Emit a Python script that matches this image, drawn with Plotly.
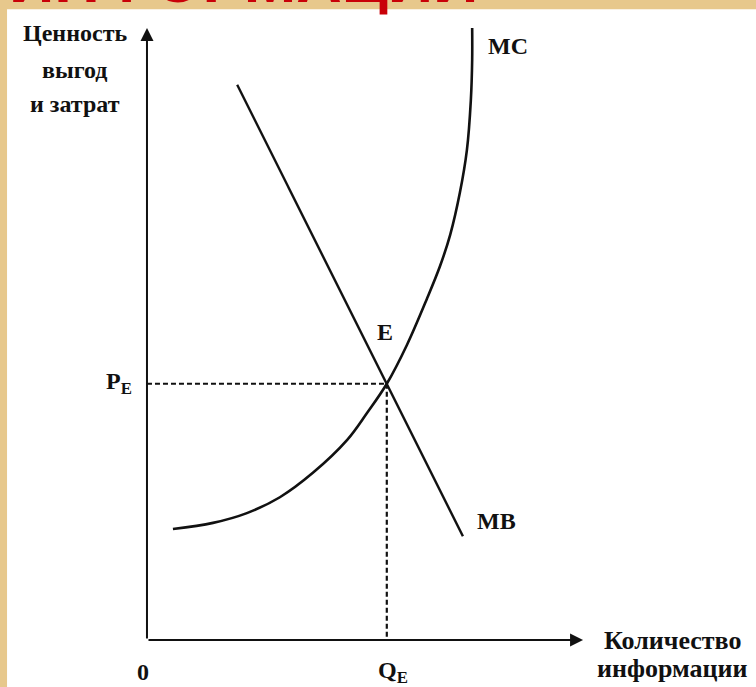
import plotly.graph_objects as go

# кривые (условные единицы: количество информации / ценность)
mc_q = [0.59, 1.50, 2.27, 3.02, 3.77, 4.55, 5.00, 5.45, 5.91, 6.36,
        6.66, 6.89, 7.11, 7.27, 7.36, 7.39, 7.39]
mc_v = [1.82, 1.92, 2.08, 2.34, 2.74, 3.28, 3.72, 4.20, 4.84, 5.59,
        6.13, 6.64, 7.33, 8.03, 8.85, 9.51, 10.03]
mb_q = [2.05, 7.18]
mb_v = [9.10, 1.70]
q_e = 5.45
p_e = 4.20
x_max = 9.91   # конец оси X
y_max = 10.03  # конец оси Y

INK = '#111111'
SERIF = 'Liberation Serif'

fig = go.Figure()

fig.add_trace(go.Scatter(x=mc_q, y=mc_v, mode='lines', line_shape='spline',
                         line=dict(color=INK, width=2.6), hoverinfo='skip'))
fig.add_trace(go.Scatter(x=mb_q, y=mb_v, mode='lines',
                         line=dict(color=INK, width=2.4), hoverinfo='skip'))
# пунктир к точке равновесия
fig.add_trace(go.Scatter(x=[0, q_e], y=[p_e, p_e], mode='lines',
                         line=dict(color=INK, width=2.2, dash='5px,3px'), hoverinfo='skip'))
fig.add_trace(go.Scatter(x=[q_e, q_e], y=[p_e, 0], mode='lines',
                         line=dict(color=INK, width=2.2, dash='5px,3px'), hoverinfo='skip'))

# белый лист поверх бежевого фона
fig.add_shape(type='rect', xref='x', yref='y', x0=-3.18, x1=13.9, y0=-0.8, y1=10.34,
              fillcolor='white', line_width=0, layer='below')

# оси со стрелками
fig.add_annotation(x=0, y=y_max, ax=0, ay=0, xref='x', yref='y', axref='x', ayref='y',
                   text='', showarrow=True, arrowhead=2, arrowsize=1.3, arrowwidth=2,
                   arrowcolor=INK)
fig.add_annotation(x=x_max, y=0, ax=0, ay=0, xref='x', yref='y', axref='x', ayref='y',
                   text='', showarrow=True, arrowhead=2, arrowsize=1.3, arrowwidth=2,
                   arrowcolor=INK)


def label(text, x, y, size=23, xanchor='center'):
    fig.add_annotation(x=x, y=y, xref='x', yref='y', text=text, showarrow=False,
                       xanchor=xanchor, yanchor='middle',
                       font=dict(family=SERIF, size=size, color=INK))


label('<b>Ценность</b>', -1.64, 9.95, 24)
label('<b>выгод</b>', -1.64, 9.34, 24)
label('<b>и затрат</b>', -1.64, 8.78, 24)
label('<b>MC</b>', 8.20, 9.74, 24)
label('<b>E</b>', 5.41, 5.05, 24)
label('<b>MB</b>', 7.95, 1.95, 24)
label('<b>P<sub>E</sub></b>', -0.30, 4.22, 24, 'right')
label('<b>0</b>', -0.09, -0.52, 24)
label('<b>Q<sub>E</sub></b>', 5.59, -0.52, 24)
label('<b>Количество</b>', 11.95, 0.0, 26)
label('<b>информации</b>', 11.95, -0.46, 26)

# заголовок слайда, обрезанный сверху
fig.add_annotation(x=0.009, y=1.029, xref='paper', yref='paper', text='<b>ИНФОРМАЦИИ</b>',
                   showarrow=False, xanchor='left', yanchor='middle',
                   font=dict(family='Liberation Sans', size=63, color='#C90008'))

fig.update_layout(
    width=756, height=687,
    margin=dict(l=0, r=0, t=0, b=0),
    paper_bgcolor='#E7C88C',
    plot_bgcolor='rgba(0,0,0,0)',
    showlegend=False,
    xaxis=dict(range=[-3.34, 13.84], visible=False, fixedrange=True),
    yaxis=dict(range=[-0.77, 10.49], visible=False, fixedrange=True),
)

fig.write_html('out.html', config={'displayModeBar': False},
               post_script="document.body.style.margin = '0';")
